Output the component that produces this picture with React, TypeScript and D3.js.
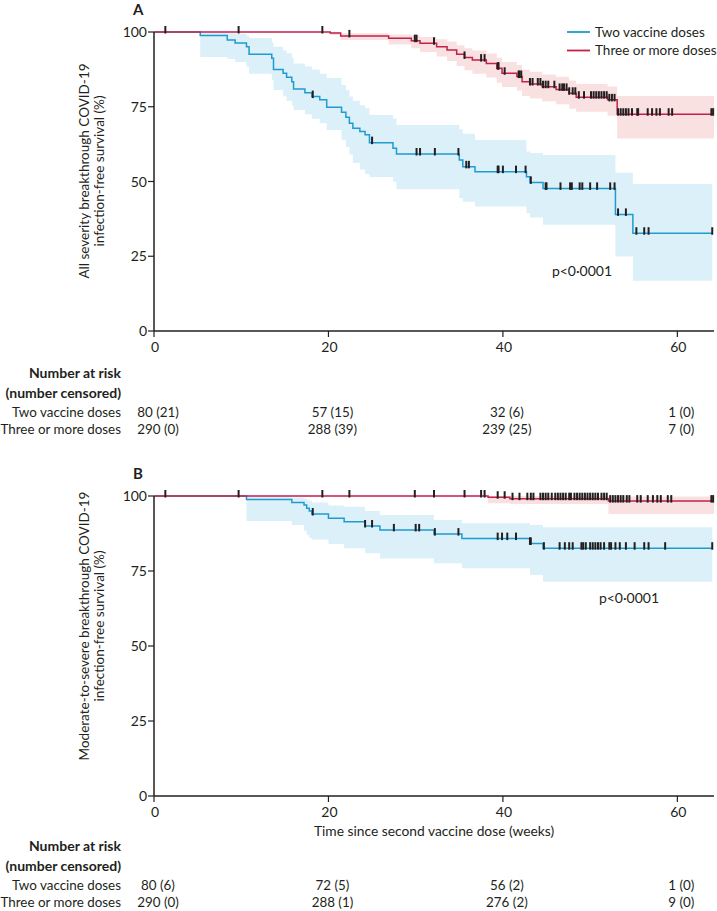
import React from 'react';
import * as d3 from 'd3';

// ---------- Panel A: all severity ----------
// Two vaccine doses (time in weeks, survival %, lower CI, upper CI)
const twoA_time = [0, 5.3, 8.4, 9.3, 10.6, 10.9, 13.5, 13.7, 14.8, 15.2, 15.8, 16.0, 17.3, 18.1, 19.0, 19.8, 21.5, 22.0, 22.4, 22.8, 23.6, 24.2, 24.7, 27.4, 27.8, 35.0, 35.4, 36.8, 42.7, 43.1, 44.6, 52.9, 54.9];
const twoA_surv = [100, 98.8, 97.3, 96.3, 95.1, 92.6, 91.2, 87.5, 86.2, 84.9, 83.4, 80.9, 79.7, 78.4, 77.3, 74.8, 73.2, 71.5, 69.5, 67.8, 66.7, 65.6, 63.0, 61.1, 59.2, 57.2, 54.9, 53.3, 51.6, 49.7, 47.7, 39.0, 32.7];
const twoA_lo = [100, 91.6, 91.0, 90.0, 88.4, 86.0, 84.0, 80.6, 78.5, 77.0, 75.5, 73.9, 72.5, 71.0, 69.5, 67.2, 64.0, 61.5, 59.0, 56.2, 54.0, 52.5, 51.5, 49.9, 47.4, 44.5, 43.2, 41.6, 39.5, 38.0, 35.5, 24.9, 16.8];
const twoA_hi = [100, 99.8, 99.6, 99.3, 98.8, 98.0, 96.5, 95.1, 93.8, 92.9, 91.5, 89.5, 88.5, 87.5, 86.0, 84.6, 82.3, 80.5, 78.4, 77.0, 75.5, 74.5, 72.2, 71.0, 68.9, 67.5, 66.0, 63.9, 60.0, 59.5, 58.9, 52.9, 49.2];
const twoA_end = 64.0;
const twoA_censor = [18.2, 25.0, 30.1, 30.5, 32.2, 34.9, 35.8, 36.1, 39.4, 39.5, 40.0, 41.5, 42.6, 43.2, 44.9, 45.0, 46.6, 47.7, 47.9, 48.8, 49.1, 50.0, 50.8, 52.3, 52.8, 53.2, 54.1, 55.3, 56.2, 56.7, 64.0];

// Three or more doses
const threeA_time = [0, 20.2, 21.4, 26.9, 29.5, 30.5, 32.4, 33.6, 34.7, 35.6, 36.5, 38.1, 39.3, 39.9, 41.6, 42.2, 43.1, 44.5, 46.1, 47.6, 48.4, 52.0, 53.1];
const threeA_surv = [100, 99.7, 98.7, 97.9, 97.1, 96.2, 95.1, 94.0, 92.6, 91.5, 90.6, 89.5, 87.9, 86.2, 85.1, 83.4, 82.6, 81.7, 80.8, 79.5, 78.2, 77.3, 72.5];
const threeA_lo = [100, 99.0, 97.3, 95.8, 94.6, 93.3, 91.8, 90.3, 88.6, 87.2, 86.0, 84.8, 83.0, 81.6, 80.4, 78.6, 77.8, 76.8, 75.8, 74.3, 73.3, 72.0, 64.4];
const threeA_hi = [100, 100, 99.6, 99.2, 98.8, 98.3, 97.6, 96.8, 95.6, 94.6, 93.8, 92.8, 91.4, 90.0, 89.0, 87.4, 86.7, 85.8, 85.0, 83.8, 82.6, 81.8, 78.6];
const threeA_end = 64.2;
const threeA_censor = [1.3, 9.7, 19.3, 22.4, 29.9, 30.1, 32.1, 35.6, 37.5, 37.9, 39.4, 39.5, 40.2, 41.8, 41.9, 42.1, 43.1, 43.4, 44.0, 44.3, 44.6, 44.9, 45.2, 45.9, 46.5, 46.8, 47.0, 47.3, 47.6, 48.0, 48.3, 48.7, 49.3, 50.1, 50.4, 50.7, 51.0, 51.3, 51.6, 51.9, 52.2, 52.5, 52.8, 53.2, 53.5, 53.8, 54.1, 54.4, 54.8, 55.4, 55.5, 56.6, 57.1, 57.6, 58.0, 59.0, 59.4, 63.9, 64.1];

// ---------- Panel B: moderate-to-severe ----------
const twoB_time = [0, 10.6, 15.8, 17.2, 17.5, 17.8, 18.1, 20.0, 21.8, 24.2, 25.9, 32.1, 35.3, 43.1, 44.6];
const twoB_surv = [100, 98.8, 97.8, 97.0, 95.9, 95.0, 94.0, 92.6, 91.4, 90.0, 88.7, 87.3, 85.8, 84.2, 82.6];
const twoB_lo = [100, 91.7, 90.3, 88.5, 87.0, 86.0, 85.5, 84.0, 82.6, 80.9, 79.2, 77.6, 75.9, 73.7, 71.4];
const twoB_hi = [100, 99.8, 99.5, 99.2, 98.8, 98.4, 97.8, 96.8, 96.4, 95.0, 93.7, 92.0, 90.9, 90.3, 89.6];
const twoB_end = 64.0;
const twoB_censor = [18.2, 24.2, 25.0, 27.5, 30.0, 30.4, 32.2, 34.9, 39.4, 39.9, 40.5, 41.5, 43.1, 43.2, 44.7, 46.5, 47.1, 47.6, 48.0, 49.0, 49.2, 49.5, 50.0, 50.3, 50.6, 50.9, 51.2, 51.6, 52.2, 52.4, 52.9, 53.4, 54.1, 55.1, 56.2, 56.7, 58.6, 64.0];

const threeB_time = [0, 38.3, 40.8, 52.1];
const threeB_surv = [100, 99.6, 99.1, 98.3];
const threeB_lo = [100, 97.6, 97.3, 94.0];
const threeB_hi = [100, 100, 100, 99.8];
const threeB_end = 64.2;
const threeB_censor = [1.3, 9.7, 19.3, 22.4, 29.9, 32.1, 35.6, 37.5, 37.9, 39.4, 40.2, 41.1, 41.9, 42.8, 43.2, 43.5, 44.3, 44.6, 44.9, 45.2, 45.6, 46.0, 46.3, 46.6, 46.9, 47.2, 47.6, 47.8, 48.2, 48.5, 48.8, 49.1, 49.4, 49.7, 50.0, 50.3, 50.6, 50.9, 51.3, 51.6, 51.9, 52.3, 52.6, 52.9, 53.2, 53.5, 53.8, 54.2, 54.5, 55.4, 55.8, 56.6, 57.2, 57.7, 58.1, 58.9, 59.3, 63.9, 64.1];

// ---------- Axes / tables ----------
const xTicks = [0, 20, 40, 60];
const yTicks = [0, 25, 50, 75, 100];
const seriesNames = ['Two vaccine doses', 'Three or more doses'];
const riskTimes = [0, 20, 40, 60];
const riskA_two = ['80 (21)', '57 (15)', '32 (6)', '1 (0)'];
const riskA_three = ['290 (0)', '288 (39)', '239 (25)', '7 (0)'];
const riskB_two = ['80 (6)', '72 (5)', '56 (2)', '1 (0)'];
const riskB_three = ['290 (0)', '288 (1)', '276 (2)', '9 (0)'];

const BLUE = '#1f9bcf';
const RED = '#c4204a';
const BLUE_BAND = '#dcf0f9';
const RED_BAND = '#f7dedd';
const INK = '#231f20';
const FONT = 'Lato, "Open Sans", sans-serif';

type Row = { t: number; s: number; lo: number; hi: number };

function rows(time: number[], surv: number[], lo: number[], hi: number[], end: number): Row[] {
  const r = time.map((t, i) => ({ t, s: surv[i], lo: lo[i], hi: hi[i] }));
  const last = r[r.length - 1];
  r.push({ t: end, s: last.s, lo: last.lo, hi: last.hi });
  return r;
}

function survAt(r: Row[], t: number) {
  let s = 100;
  for (const d of r) if (d.t <= t) s = d.s;
  return s;
}

const x = d3.scaleLinear().domain([0, 64.2]).range([154, 714]);

type PanelProps = {
  top: number;
  bottom: number;
  letter: string;
  title1: string;
  title2: string;
  titleY: number;
  two: Row[];
  three: Row[];
  twoC: number[];
  threeC: number[];
  pX: number;
  pY: number;
};

function Panel(p: PanelProps) {
  const y = d3.scaleLinear().domain([0, 100]).range([p.bottom, p.top]);
  const line = d3.line<Row>().x(d => x(d.t)).y(d => y(d.s)).curve(d3.curveStepAfter);
  const area = d3.area<Row>().x(d => x(d.t)).y0(d => y(d.lo)).y1(d => y(d.hi)).curve(d3.curveStepAfter);
  const ticksFor = (r: Row[], c: number[], key: string) =>
    c.map((t, i) => {
      const yy = y(survAt(r, t));
      return <line key={key + i} x1={x(t)} x2={x(t)} y1={yy - 6} y2={yy + 1.5} stroke={INK} strokeWidth={2} />;
    });
  return (
    <g>
      <path d={area(p.two) || ''} fill={BLUE_BAND} />
      <path d={area(p.three) || ''} fill={RED_BAND} fillOpacity={0.9} />
      <path d={line(p.two) || ''} fill="none" stroke={BLUE} strokeWidth={1.5} />
      <path d={line(p.three) || ''} fill="none" stroke={RED} strokeWidth={1.5} />
      {ticksFor(p.two, p.twoC, 'b')}
      {ticksFor(p.three, p.threeC, 'r')}
      {/* axes */}
      <line x1={x(0)} x2={x(0)} y1={y(0)} y2={y(100)} stroke={INK} strokeWidth={1.5} />
      <line x1={x(0)} x2={714} y1={y(0)} y2={y(0)} stroke={INK} strokeWidth={1.5} />
      {yTicks.map(v => (
        <g key={'yt' + v}>
          <line x1={x(0) - 6} x2={x(0)} y1={y(v)} y2={y(v)} stroke={INK} strokeWidth={1.2} />
          <text x={x(0) - 7} y={y(v) + 5} textAnchor="end" fontSize={14}>{v}</text>
        </g>
      ))}
      {xTicks.map(v => (
        <g key={'xt' + v}>
          <line x1={x(v)} x2={x(v)} y1={y(0)} y2={y(0) + 6} stroke={INK} strokeWidth={1.2} />
          <text x={x(v) + 1} y={y(0) + 21} textAnchor="middle" fontSize={14}>{v}</text>
        </g>
      ))}
      <text x={133} y={p.top - 17.5} fontSize={15} fontWeight="bold">{p.letter}</text>
      <g transform={`translate(86,${p.titleY}) rotate(-90)`}>
        <text x={0} y={0} textAnchor="middle" fontSize={13.5} dominantBaseline="middle">{p.title1}</text>
        <text x={0} y={15} textAnchor="middle" fontSize={13.5} dominantBaseline="middle">{p.title2}</text>
      </g>
      <text x={p.pX} y={p.pY + 5} textAnchor="middle" fontSize={14}>p&lt;0·0001</text>
    </g>
  );
}

function RiskTable({ y0, two, three }: { y0: number; two: string[]; three: string[] }) {
  return (
    <g fontSize={13.4}>
      <text x={121} y={y0} textAnchor="end" fontWeight="bold" fontSize={14}>Number at risk</text>
      <text x={121} y={y0 + 19.5} textAnchor="end" fontWeight="bold" fontSize={14}>(number censored)</text>
      <text x={121} y={y0 + 38.5} textAnchor="end">{seriesNames[0]}</text>
      <text x={121} y={y0 + 55.5} textAnchor="end">{seriesNames[1]}</text>
      {riskTimes.map((t, i) => (
        <g key={'r' + t}>
          <text x={x(t) + 4} y={y0 + 38.5} textAnchor="middle">{two[i]}</text>
          <text x={x(t) + 4} y={y0 + 55.5} textAnchor="middle">{three[i]}</text>
        </g>
      ))}
    </g>
  );
}

export default function App() {
  const twoA = rows(twoA_time, twoA_surv, twoA_lo, twoA_hi, twoA_end);
  const threeA = rows(threeA_time, threeA_surv, threeA_lo, threeA_hi, threeA_end);
  const twoB = rows(twoB_time, twoB_surv, twoB_lo, twoB_hi, twoB_end);
  const threeB = rows(threeB_time, threeB_surv, threeB_lo, threeB_hi, threeB_end);
  return (
    <svg width={717} height={911} style={{ position: 'absolute', left: 0, top: 0, background: '#fff' }}
      fontFamily={FONT} fill={INK}>
      <rect x={0} y={0} width={717} height={911} fill="#fff" />
      <Panel top={32} bottom={331} letter="A" title1="All severity breakthrough COVID-19"
        title2="infection-free survival (%)" titleY={171} two={twoA} three={threeA}
        twoC={twoA_censor} threeC={threeA_censor} pX={582} pY={271} />
      <Panel top={496} bottom={796} letter="B" title1="Moderate-to-severe breakthrough COVID-19"
        title2="infection-free survival (%)" titleY={626} two={twoB} three={threeB}
        twoC={twoB_censor} threeC={threeB_censor} pX={629} pY={598} />
      {/* legend */}
      <line x1={567} x2={590} y1={32} y2={32} stroke={BLUE} strokeWidth={1.8} />
      <line x1={567} x2={590} y1={50.5} y2={50.5} stroke={RED} strokeWidth={1.8} />
      <text x={595} y={36.5} fontSize={13.5}>{seriesNames[0]}</text>
      <text x={595} y={55} fontSize={13.5}>{seriesNames[1]}</text>
      <RiskTable y0={378} two={riskA_two} three={riskA_three} />
      <text x={434} y={836} textAnchor="middle" fontSize={13.8}>Time since second vaccine dose (weeks)</text>
      <RiskTable y0={851} two={riskB_two} three={riskB_three} />
    </svg>
  );
}
